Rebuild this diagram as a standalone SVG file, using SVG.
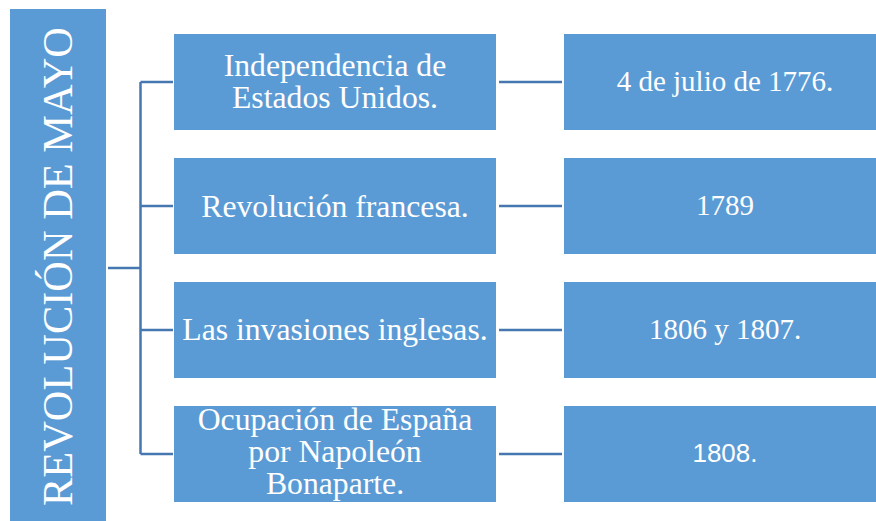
<svg xmlns="http://www.w3.org/2000/svg" width="876" height="521" viewBox="0 0 876 521">
<style>
.box{fill:#5b9bd5}
.conn{stroke:#4677b0;stroke-width:2.5;fill:none}
.t{fill:#ffffff;font-family:"Liberation Serif","Times New Roman",serif;text-anchor:middle}
.mid{font-size:31.7px}
.rt{font-size:29px}
.sans{font-family:"Liberation Sans",Arial,sans-serif;font-size:26px}
</style>
<rect width="876" height="521" fill="#ffffff"/>
<g id="connectors">
<path class="conn" d="M108 268H140.5M140.5 82V454M140.5 82H173M140.5 206H173M140.5 330H173M140.5 454H173"/>
<path class="conn" d="M499 82H562M499 206H562M499 330H562M499 454H562"/>
</g>
<g id="root">
<rect class="box" x="10" y="9" width="96" height="512"/>
<text class="t" font-size="42.4" transform="translate(72,266.5) rotate(-90)">REVOLUCIÓN DE MAYO</text>
</g>
<g id="n1">
<rect class="box" x="174" y="34" width="322" height="96"/>
<text class="t mid"><tspan x="335" y="76">Independencia de</tspan><tspan x="335" y="108">Estados Unidos.</tspan></text>
</g>
<g id="n2">
<rect class="box" x="174" y="158" width="322" height="96"/>
<text class="t mid" x="335" y="217">Revolución francesa.</text>
</g>
<g id="n3">
<rect class="box" x="174" y="282" width="322" height="96"/>
<text class="t mid" x="335" y="340">Las invasiones inglesas.</text>
</g>
<g id="n4">
<rect class="box" x="174" y="406" width="322" height="96"/>
<text class="t mid"><tspan x="335" y="430">Ocupación de España</tspan><tspan x="335" y="462">por Napoleón</tspan><tspan x="335" y="494">Bonaparte.</tspan></text>
</g>
<g id="d1">
<rect class="box" x="564" y="34" width="322" height="96"/>
<text class="t rt" x="725" y="91">4 de julio de 1776.</text>
</g>
<g id="d2">
<rect class="box" x="564" y="158" width="322" height="96"/>
<text class="t rt" x="725" y="215">1789</text>
</g>
<g id="d3">
<rect class="box" x="564" y="282" width="322" height="96"/>
<text class="t rt" x="725" y="339">1806 y 1807.</text>
</g>
<g id="d4">
<rect class="box" x="564" y="406" width="322" height="96"/>
<text class="t sans" x="725" y="462">1808.</text>
</g>
</svg>
